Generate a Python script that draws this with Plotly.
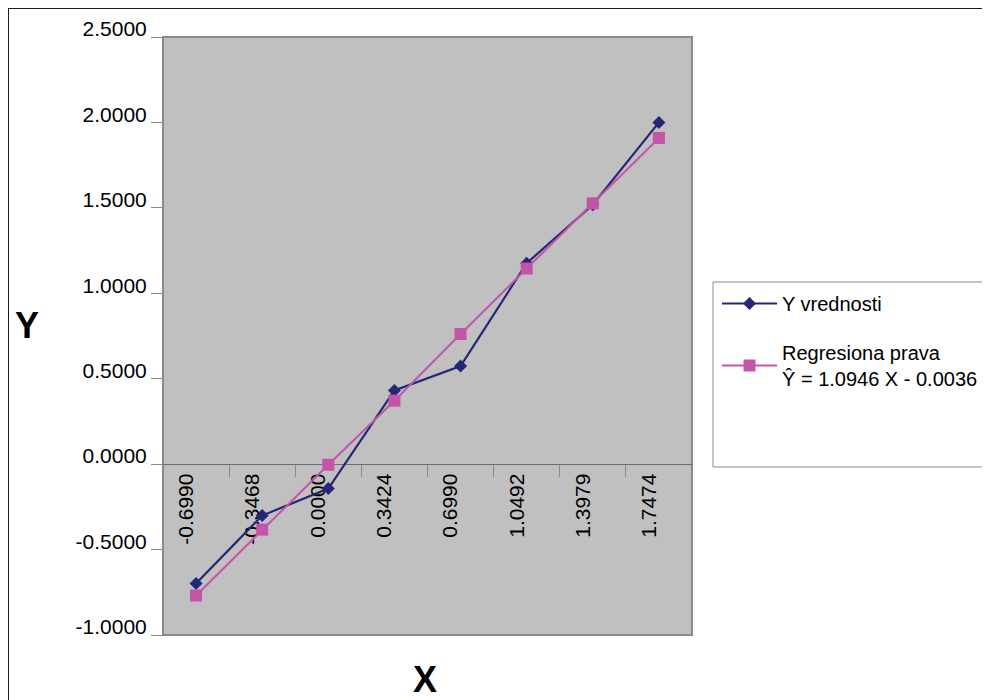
import plotly.graph_objects as go

# ---- data ----
x_categories = ["-0.6990", "-0.3468", "0.0000", "0.3424", "0.6990", "1.0492", "1.3979", "1.7474"]
y_values = [-0.6990, -0.3010, -0.1427, 0.4314, 0.5740, 1.1761, 1.5185, 2.0000]
regression_values = [-0.7687, -0.3832, -0.0036, 0.3712, 0.7615, 1.1449, 1.5266, 1.9091]
y_tick_vals = [-1.0, -0.5, 0.0, 0.5, 1.0, 1.5, 2.0, 2.5]
y_tick_text = ["-1.0000", "-0.5000", "0.0000", "0.5000", "1.0000", "1.5000", "2.0000", "2.5000"]
series_names = ["Y vrednosti", "Regresiona prava<br>Ŷ = 1.0946 X - 0.0036"]

# ---- layout geometry (screen pixels; the page body adds an 8px offset) ----
OFF = 8
W, H = 990 - OFF, 700 - OFF
L, R, T, B = 163 - OFF, 692 - OFF, 37 - OFF, 635 - OFF
PW, PH = R - L, B - T


def px_x(p):
    return (p - OFF - L) / PW


def px_y(p):
    return (B - (p - OFF)) / PH


FONT = "Liberation Sans, Arial, sans-serif"
BLUE = "#262678"
PINK = "#C454A8"

fig = go.Figure()
fig.add_trace(go.Scatter(
    x=x_categories, y=y_values, name=series_names[0], mode="lines+markers",
    line=dict(color=BLUE, width=2.2),
    marker=dict(symbol="diamond", size=10, color=BLUE, line=dict(width=0)),
    legendgroup="a",
))
fig.add_trace(go.Scatter(
    x=x_categories, y=regression_values, name=series_names[1], mode="lines+markers",
    line=dict(color=PINK, width=2),
    marker=dict(symbol="square", size=12, color=PINK, line=dict(width=0)),
    legendgroup="b",
))

fig.update_layout(
    width=W, height=H,
    margin=dict(l=L, r=W - R, t=T, b=H - B, pad=0, autoexpand=False),
    paper_bgcolor="white",
    plot_bgcolor="#C0C0C0",
    font=dict(family=FONT, size=21, color="black"),
    showlegend=True,
    legend=dict(
        x=px_x(717), y=px_y(284), xanchor="left", yanchor="top",
        bgcolor="rgba(0,0,0,0)", borderwidth=0,
        font=dict(family=FONT, size=20, color="black"),
        traceorder="grouped", tracegroupgap=20, itemwidth=55,
    ),
    xaxis=dict(
        type="category", anchor="free", position=1 / 3.5,
        showline=True, linecolor="#6E6E6E", linewidth=1,
        ticks="outside", tickson="boundaries", ticklen=12, tickcolor="#8A8A8A", tickwidth=1,
        tickangle=-90, ticklabelshift=-10,
        tickfont=dict(family=FONT, size=21, color="black"),
        showgrid=False, zeroline=False, layer="below traces",
        range=[-0.5, 7.5], automargin=False,
    ),
    yaxis=dict(
        range=[-1, 2.5], tickvals=y_tick_vals, ticktext=y_tick_text,
        showline=False, ticks="outside", ticklen=11, tickcolor="#8A8A8A", tickwidth=1,
        ticklabelshift=-8,
        tickfont=dict(family=FONT, size=21, color="black"),
        showgrid=False, zeroline=False, automargin=False,
    ),
    shapes=[
        # outer chart frame
        dict(type="rect", xref="paper", yref="paper",
             x0=px_x(8), x1=px_x(1020), y0=px_y(730), y1=px_y(8),
             line=dict(color="#1A1A1A", width=2), fillcolor="rgba(0,0,0,0)", layer="below"),
        # plot area border
        dict(type="rect", xref="paper", yref="paper", x0=0, x1=1, y0=0, y1=1,
             line=dict(color="#8A8A8A", width=2), fillcolor="rgba(0,0,0,0)", layer="below"),
        # legend box
        dict(type="rect", xref="paper", yref="paper",
             x0=px_x(713), x1=px_x(1020), y0=px_y(467), y1=px_y(282),
             line=dict(color="#8A8A8A", width=1), fillcolor="white", layer="below"),
    ],
    annotations=[
        dict(text="<b>Y</b>", xref="paper", yref="paper", x=px_x(27), y=px_y(325),
             xanchor="center", yanchor="middle", showarrow=False,
             font=dict(family=FONT, size=36, color="black")),
        dict(text="<b>X</b>", xref="paper", yref="paper", x=px_x(425), y=px_y(679),
             xanchor="center", yanchor="middle", showarrow=False,
             font=dict(family=FONT, size=36, color="black")),
    ],
)

fig.write_html("out.html")
